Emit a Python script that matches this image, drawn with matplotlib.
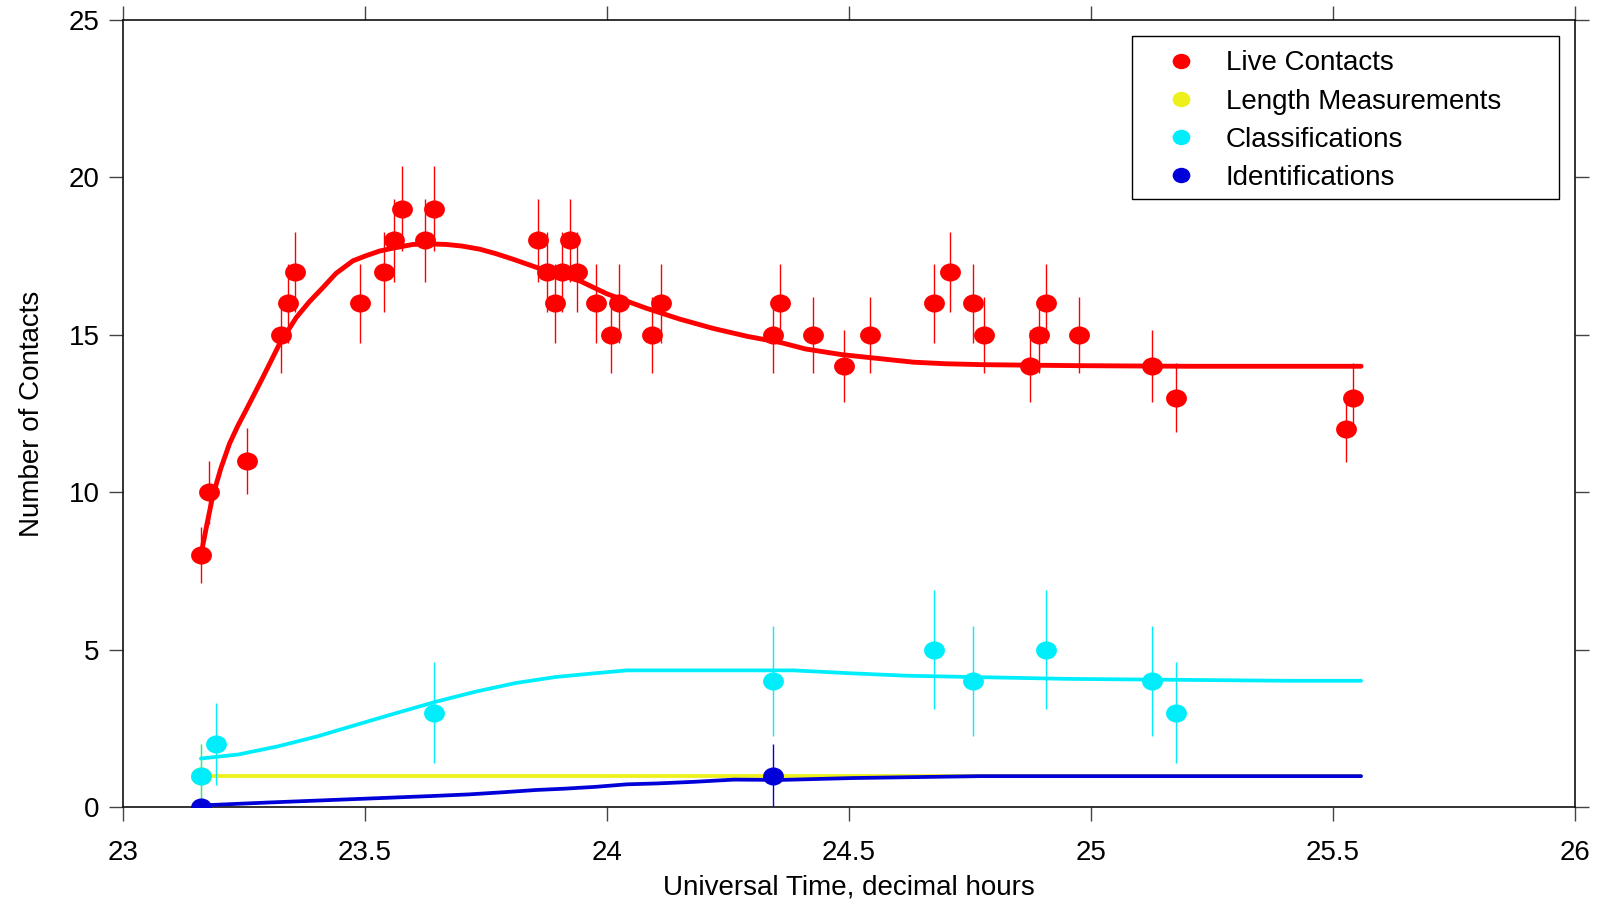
import numpy as np
import matplotlib
matplotlib.use('Agg')
import matplotlib.pyplot as plt
from matplotlib.path import Path
from matplotlib.patches import Rectangle
from matplotlib.transforms import Affine2D

plt.rcParams['font.family'] = ['Liberation Sans', 'DejaVu Sans']

# observed counts (time in decimal hours UT)
live_t = [23.161, 23.178, 23.256, 23.326, 23.341, 23.356, 23.489, 23.540, 23.559, 23.576,
          23.623, 23.642, 23.858, 23.875, 23.892, 23.907, 23.923, 23.938, 23.977, 24.009,
          24.025, 24.093, 24.112, 24.342, 24.358, 24.426, 24.490, 24.543, 24.676, 24.709,
          24.757, 24.778, 24.873, 24.892, 24.908, 24.975, 25.127, 25.176, 25.527, 25.542]
live_n = [8, 10, 11, 15, 16, 17, 16, 17, 18, 19,
          18, 19, 18, 17, 16, 17, 18, 17, 16, 15,
          16, 15, 16, 15, 16, 15, 14, 15, 16, 17,
          16, 15, 14, 15, 16, 15, 14, 13, 12, 13]
live_err = [0.9, 1.0, 1.05, 1.2, 1.25, 1.28, 1.25, 1.28, 1.32, 1.35,
            1.32, 1.35, 1.32, 1.28, 1.25, 1.28, 1.32, 1.28, 1.25, 1.2,
            1.25, 1.2, 1.25, 1.2, 1.25, 1.2, 1.15, 1.2, 1.25, 1.28,
            1.25, 1.2, 1.15, 1.2, 1.25, 1.2, 1.15, 1.1, 1.05, 1.1]

length_t = [23.161]
length_n = [1]
length_err = [1.0]

class_t = [23.161, 23.192, 23.642, 24.342, 24.676, 24.756, 24.908, 25.127, 25.176]
class_n = [1, 2, 3, 4, 5, 4, 5, 4, 3]
class_err = [1.0, 1.3, 1.6, 1.75, 1.9, 1.75, 1.9, 1.75, 1.6]

ident_t = [23.161, 24.342]
ident_n = [0, 1]
ident_err = [0.0, 1.0]

# smoothed model curves
live_fit_t = [23.161, 23.173, 23.185, 23.202, 23.220, 23.237, 23.254, 23.289, 23.323, 23.358,
              23.385, 23.413, 23.44, 23.475, 23.50, 23.530, 23.56, 23.599, 23.63, 23.668,
              23.70, 23.737, 23.77, 23.806, 23.875, 23.944, 24.0, 24.08, 24.15, 24.22,
              24.29, 24.36, 24.41, 24.485, 24.559, 24.633, 24.70, 24.78, 24.97, 25.2, 25.558]
live_fit_n = [8.0, 8.95, 9.85, 10.75, 11.54, 12.1, 12.6, 13.65, 14.7, 15.55,
              16.05, 16.5, 16.95, 17.35, 17.5, 17.66, 17.76, 17.87, 17.89, 17.87,
              17.82, 17.72, 17.58, 17.4, 17.03, 16.71, 16.3, 15.85, 15.5, 15.2,
              14.95, 14.75, 14.55, 14.37, 14.25, 14.13, 14.08, 14.05, 14.02, 14.0, 14.0]

length_fit_t = [23.161, 25.558]
length_fit_n = [1.0, 1.0]

class_fit_t = [23.161, 23.239, 23.321, 23.403, 23.484, 23.566, 23.648, 23.730, 23.812, 23.894,
               23.976, 24.041, 24.385, 24.5, 24.619, 24.952, 25.404, 25.558]
class_fit_n = [1.54, 1.67, 1.93, 2.25, 2.62, 2.99, 3.35, 3.67, 3.94, 4.13,
               4.25, 4.34, 4.34, 4.25, 4.17, 4.07, 4.01, 4.01]

ident_fit_t = [23.161, 23.296, 23.427, 23.542, 23.640, 23.714, 23.787, 23.853, 23.910, 23.976,
               24.041, 24.106, 24.180, 24.262, 24.36, 24.508, 24.77, 25.558]
ident_fit_n = [0.05, 0.14, 0.22, 0.29, 0.35, 0.40, 0.47, 0.54, 0.58, 0.64,
               0.72, 0.75, 0.80, 0.87, 0.86, 0.92, 0.98, 0.98]

x_ticks = [23, 23.5, 24, 24.5, 25, 25.5, 26]
x_tick_labels = ['23', '23.5', '24', '24.5', '25', '25.5', '26']
y_ticks = [0, 5, 10, 15, 20, 25]

RED = '#ff0000'
YELLOW = '#eef01a'
CYAN = '#00eefc'
BLUE = '#0000d8'

# slightly wide ellipse marker
ellipse = Path.unit_circle().transformed(Affine2D().scale(1.15, 1.0))

W, H = 1605, 908
fig = plt.figure(figsize=(W / 100, H / 100), dpi=100)
ax = fig.add_axes([123 / W, 1 - 807 / H, (1575 - 123) / W, (807 - 20) / H])

series = [
    (live_t, live_n, live_err, live_fit_t, live_fit_n, RED, 'Live Contacts', 3.5, 6),
    (length_t, length_n, length_err, length_fit_t, length_fit_n, YELLOW, 'Length Measurements', 2.7, 3),
    (class_t, class_n, class_err, class_fit_t, class_fit_n, CYAN, 'Classifications', 2.7, 4),
    (ident_t, ident_n, ident_err, ident_fit_t, ident_fit_n, BLUE, 'Identifications', 2.7, 5),
]

for t, n, err, ft, fn, col, label, lw, z in series:
    ax.errorbar(t, n, yerr=err, fmt='none', ecolor=col, elinewidth=1.0, capsize=0, zorder=z)
    ax.plot(ft, fn, color=col, lw=lw, solid_capstyle='round', solid_joinstyle='round', zorder=z + 0.1)
    ax.plot(t, n, linestyle='none', marker=ellipse, markersize=15, color=col,
            markeredgewidth=0, label=label, zorder=z + 0.2)

ax.set_xlim(23, 26)
ax.set_ylim(0, 25)
ax.set_xticks(x_ticks)
ax.set_xticklabels(x_tick_labels)
ax.set_yticks(y_ticks)
ax.tick_params(direction='out', length=10, width=1, top=True, right=True,
               labelsize=20, color='#444444', labelcolor='black')
ax.tick_params(axis='x', pad=14)
ax.tick_params(axis='y', pad=7)
for sp in ax.spines.values():
    sp.set_linewidth(1.2)
    sp.set_color('#111111')

ax.set_xlabel('Universal Time, decimal hours', fontsize=20, labelpad=6)
ax.set_ylabel('Number of Contacts', fontsize=20, labelpad=17)

# legend entries without frame, boxed by a separate rectangle
leg = ax.legend(loc='upper left', bbox_to_anchor=(1132 / W, 1 - 36 / H),
                bbox_transform=fig.transFigure, borderaxespad=0, fontsize=20,
                frameon=False, handletextpad=0.36, borderpad=0.52, labelspacing=0.44,
                handlelength=2.5, markerscale=0.85)
leg.set_zorder(20)
box = Rectangle((1132 / W, 1 - 199 / H), 427 / W, 163 / H,
                transform=fig.transFigure, facecolor='white',
                edgecolor='black', lw=1.0, zorder=15, clip_on=False)
ax.add_patch(box)

fig.savefig('out.png', dpi=100)
